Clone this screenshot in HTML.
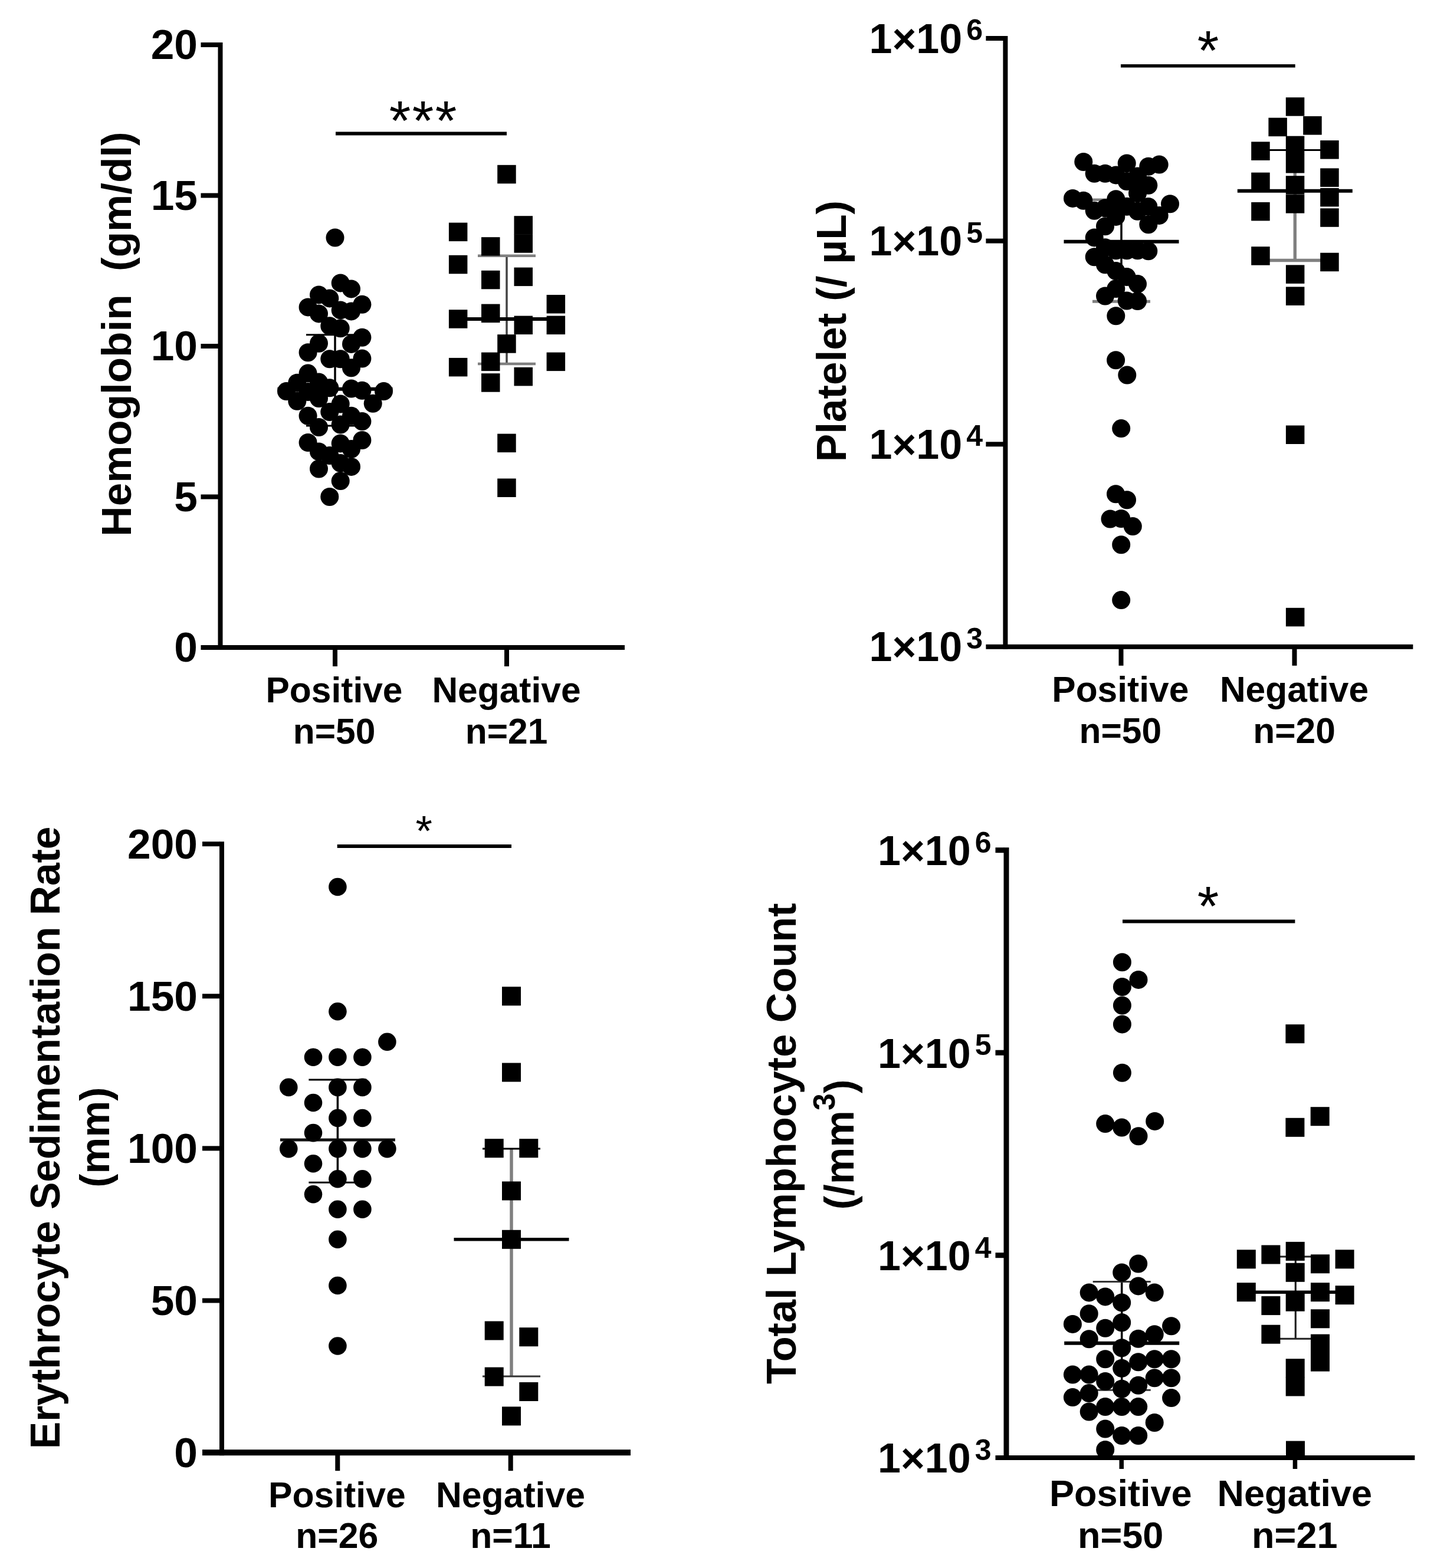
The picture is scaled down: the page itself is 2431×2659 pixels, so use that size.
<!DOCTYPE html>
<html lang="en">
<head>
<meta charset="utf-8">
<title>Hematological parameters: Positive vs Negative</title>
<style>
html,body{margin:0;padding:0;background:#fff;}
body{width:2431px;height:2659px;overflow:hidden;}
svg{display:block;font-family:'Liberation Sans', sans-serif;font-weight:bold;fill:#000;}
</style>
</head>
<body>
<svg role="img" aria-label="Four scatter plots comparing Positive and Negative groups" width="2431" height="2659" viewBox="0 0 2431 2659">
<rect x="0" y="0" width="2431" height="2659" fill="#ffffff"/>
<rect x="369.5" y="72.0" width="8.0" height="1030.0" fill="#000"/>
<rect x="340.5" y="1094.0" width="718.5" height="8.0" fill="#000"/>
<rect x="340.5" y="72.0" width="30.0" height="8.0" fill="#000"/>
<rect x="340.5" y="327.5" width="30.0" height="8.0" fill="#000"/>
<rect x="340.5" y="583.0" width="30.0" height="8.0" fill="#000"/>
<rect x="340.5" y="838.5" width="30.0" height="8.0" fill="#000"/>
<rect x="564.0" y="1098.0" width="8.0" height="32.0" fill="#000"/>
<rect x="855.0" y="1098.0" width="8.0" height="32.0" fill="#000"/>
<text x="335.0" y="100.0" font-size="71.3" text-anchor="end" >20</text>
<text x="335.0" y="355.5" font-size="71.3" text-anchor="end" >15</text>
<text x="335.0" y="611.0" font-size="71.3" text-anchor="end" >10</text>
<text x="335.0" y="866.5" font-size="71.3" text-anchor="end" >5</text>
<text x="335.0" y="1122.0" font-size="71.3" text-anchor="end" >0</text>
<text transform="translate(222.0,566.5) rotate(-90)" font-size="71" text-anchor="middle">Hemoglobin &#160;(gm/dl)</text>
<text x="566.5" y="1191.0" font-size="60.5" text-anchor="middle" >Positive</text>
<text x="566.5" y="1260.5" font-size="60.5" text-anchor="middle" >n=50</text>
<text x="858.5" y="1191.0" font-size="60.5" text-anchor="middle" >Negative</text>
<text x="858.5" y="1260.5" font-size="60.5" text-anchor="middle" >n=21</text>
<line x1="569.0" y1="226.5" x2="859.0" y2="226.5" stroke="#000" stroke-width="6"/>
<text x="718.2" y="236.5" font-size="94" text-anchor="middle" font-weight="normal" letter-spacing="2.4">***</text>
<line x1="568.0" y1="567.8" x2="568.0" y2="722.0" stroke="#000" stroke-width="3.5"/>
<line x1="519.0" y1="567.8" x2="617.0" y2="567.8" stroke="#000" stroke-width="3"/>
<line x1="519.0" y1="722.0" x2="617.0" y2="722.0" stroke="#000" stroke-width="3"/>
<line x1="470.5" y1="659.7" x2="665.5" y2="659.7" stroke="#000" stroke-width="6"/>
<line x1="859.0" y1="433.8" x2="859.0" y2="617.0" stroke="#444" stroke-width="3.5"/>
<line x1="810.0" y1="433.8" x2="908.0" y2="433.8" stroke="#808080" stroke-width="4.5"/>
<line x1="810.0" y1="617.0" x2="908.0" y2="617.0" stroke="#808080" stroke-width="4.5"/>
<line x1="761.5" y1="541.0" x2="956.5" y2="541.0" stroke="#000" stroke-width="6"/>
<circle cx="568.0" cy="403.0" r="15.5"/>
<circle cx="577.2" cy="479.9" r="15.5"/>
<circle cx="595.5" cy="489.9" r="15.5"/>
<circle cx="540.5" cy="499.9" r="15.5"/>
<circle cx="558.8" cy="505.9" r="15.5"/>
<circle cx="522.1" cy="520.9" r="15.5"/>
<circle cx="613.9" cy="516.3" r="15.5"/>
<circle cx="577.2" cy="525.9" r="15.5"/>
<circle cx="595.5" cy="527.9" r="15.5"/>
<circle cx="540.5" cy="531.9" r="15.5"/>
<circle cx="558.8" cy="552.8" r="15.5"/>
<circle cx="577.2" cy="556.8" r="15.5"/>
<circle cx="613.9" cy="572.2" r="15.5"/>
<circle cx="595.5" cy="583.4" r="15.5"/>
<circle cx="540.5" cy="582.2" r="15.5"/>
<circle cx="522.1" cy="597.7" r="15.5"/>
<circle cx="558.8" cy="608.7" r="15.5"/>
<circle cx="577.2" cy="608.7" r="15.5"/>
<circle cx="613.9" cy="608.1" r="15.5"/>
<circle cx="595.5" cy="623.7" r="15.5"/>
<circle cx="522.1" cy="633.1" r="15.5"/>
<circle cx="485.5" cy="663.6" r="15.5"/>
<circle cx="503.8" cy="649.3" r="15.5"/>
<circle cx="503.8" cy="680.2" r="15.5"/>
<circle cx="522.1" cy="664.6" r="15.5"/>
<circle cx="540.5" cy="648.1" r="15.5"/>
<circle cx="540.5" cy="675.6" r="15.5"/>
<circle cx="558.8" cy="657.7" r="15.5"/>
<circle cx="595.5" cy="659.1" r="15.5"/>
<circle cx="613.9" cy="662.2" r="15.5"/>
<circle cx="650.5" cy="663.6" r="15.5"/>
<circle cx="632.2" cy="684.2" r="15.5"/>
<circle cx="577.2" cy="685.0" r="15.5"/>
<circle cx="558.8" cy="698.6" r="15.5"/>
<circle cx="595.5" cy="705.2" r="15.5"/>
<circle cx="613.9" cy="714.6" r="15.5"/>
<circle cx="577.2" cy="720.0" r="15.5"/>
<circle cx="522.1" cy="705.2" r="15.5"/>
<circle cx="540.5" cy="724.5" r="15.5"/>
<circle cx="522.1" cy="750.5" r="15.5"/>
<circle cx="613.9" cy="746.5" r="15.5"/>
<circle cx="577.2" cy="751.9" r="15.5"/>
<circle cx="595.5" cy="761.5" r="15.5"/>
<circle cx="540.5" cy="765.9" r="15.5"/>
<circle cx="558.8" cy="772.5" r="15.5"/>
<circle cx="577.2" cy="785.4" r="15.5"/>
<circle cx="595.5" cy="791.4" r="15.5"/>
<circle cx="540.5" cy="795.0" r="15.5"/>
<circle cx="577.2" cy="815.6" r="15.5"/>
<circle cx="558.8" cy="842.5" r="15.5"/>
<rect x="760.9" y="377.6" width="31.5" height="31.5"/>
<rect x="760.9" y="432.8" width="31.5" height="31.5"/>
<rect x="760.9" y="525.2" width="31.5" height="31.5"/>
<rect x="760.9" y="606.9" width="31.5" height="31.5"/>
<rect x="816.0" y="402.2" width="31.5" height="31.5"/>
<rect x="816.0" y="458.8" width="31.5" height="31.5"/>
<rect x="816.0" y="515.6" width="31.5" height="31.5"/>
<rect x="816.0" y="597.6" width="31.5" height="31.5"/>
<rect x="816.0" y="633.2" width="31.5" height="31.5"/>
<rect x="843.2" y="279.8" width="31.5" height="31.5"/>
<rect x="843.2" y="567.2" width="31.5" height="31.5"/>
<rect x="843.2" y="735.6" width="31.5" height="31.5"/>
<rect x="843.2" y="811.5" width="31.5" height="31.5"/>
<rect x="871.5" y="366.2" width="31.5" height="31.5"/>
<rect x="871.5" y="397.2" width="31.5" height="31.5"/>
<rect x="871.5" y="453.6" width="31.5" height="31.5"/>
<rect x="871.5" y="535.6" width="31.5" height="31.5"/>
<rect x="871.5" y="622.9" width="31.5" height="31.5"/>
<rect x="926.6" y="500.0" width="31.5" height="31.5"/>
<rect x="926.6" y="535.6" width="31.5" height="31.5"/>
<rect x="926.6" y="597.6" width="31.5" height="31.5"/>
<rect x="1700.4" y="61.0" width="8.0" height="1039.8" fill="#000"/>
<rect x="1671.4" y="1092.8" width="724.0" height="8.0" fill="#000"/>
<rect x="1671.4" y="61.0" width="30.0" height="8.0" fill="#000"/>
<rect x="1671.4" y="404.6" width="30.0" height="8.0" fill="#000"/>
<rect x="1671.4" y="749.3" width="30.0" height="8.0" fill="#000"/>
<rect x="1896.5" y="1096.8" width="8.0" height="32.0" fill="#000"/>
<rect x="2190.5" y="1096.8" width="8.0" height="32.0" fill="#000"/>
<text x="1666.0" y="89.5" font-size="70" text-anchor="end">1×10<tspan font-size="50" dx="7" dy="-21.5">6</tspan></text>
<text x="1666.0" y="433.1" font-size="70" text-anchor="end">1×10<tspan font-size="50" dx="7" dy="-21.5">5</tspan></text>
<text x="1666.0" y="777.8" font-size="70" text-anchor="end">1×10<tspan font-size="50" dx="7" dy="-21.5">4</tspan></text>
<text x="1666.0" y="1121.3" font-size="70" text-anchor="end">1×10<tspan font-size="50" dx="7" dy="-21.5">3</tspan></text>
<text transform="translate(1433.5,561.5) rotate(-90)" font-size="71" text-anchor="middle">Platelet (/ µL)</text>
<text x="1899.3" y="1190.3" font-size="60.5" text-anchor="middle" >Positive</text>
<text x="1899.3" y="1259.8" font-size="60.5" text-anchor="middle" >n=50</text>
<text x="2194.0" y="1190.3" font-size="60.5" text-anchor="middle" >Negative</text>
<text x="2194.0" y="1259.8" font-size="60.5" text-anchor="middle" >n=20</text>
<line x1="1900.0" y1="111.7" x2="2195.7" y2="111.7" stroke="#000" stroke-width="5.5"/>
<text x="2048.0" y="118.0" font-size="94" text-anchor="middle" font-weight="normal">*</text>
<line x1="1901.0" y1="338.8" x2="1901.0" y2="511.2" stroke="#000" stroke-width="3.5"/>
<line x1="1852.0" y1="338.8" x2="1950.0" y2="338.8" stroke="#808080" stroke-width="4.5"/>
<line x1="1852.0" y1="511.2" x2="1950.0" y2="511.2" stroke="#808080" stroke-width="5"/>
<line x1="1803.5" y1="409.7" x2="1998.5" y2="409.7" stroke="#000" stroke-width="6"/>
<line x1="2195.3" y1="254.4" x2="2195.3" y2="441.5" stroke="#808080" stroke-width="5.4"/>
<line x1="2146.3" y1="254.4" x2="2244.3" y2="254.4" stroke="#000" stroke-width="3"/>
<line x1="2146.3" y1="441.5" x2="2244.3" y2="441.5" stroke="#808080" stroke-width="5.5"/>
<line x1="2097.8" y1="323.7" x2="2292.8" y2="323.7" stroke="#000" stroke-width="6"/>
<circle cx="1836.8" cy="274.5" r="15.5"/>
<circle cx="1910.2" cy="276.9" r="15.5"/>
<circle cx="1965.2" cy="279.1" r="15.5"/>
<circle cx="1946.8" cy="282.3" r="15.5"/>
<circle cx="1855.2" cy="294.3" r="15.5"/>
<circle cx="1873.5" cy="294.3" r="15.5"/>
<circle cx="1891.8" cy="296.9" r="15.5"/>
<circle cx="1928.5" cy="298.9" r="15.5"/>
<circle cx="1910.2" cy="307.5" r="15.5"/>
<circle cx="1946.8" cy="314.3" r="15.5"/>
<circle cx="1818.5" cy="336.4" r="15.5"/>
<circle cx="1836.8" cy="340.2" r="15.5"/>
<circle cx="1855.2" cy="357.2" r="15.5"/>
<circle cx="1873.5" cy="352.8" r="15.5"/>
<circle cx="1891.8" cy="337.8" r="15.5"/>
<circle cx="1983.5" cy="345.8" r="15.5"/>
<circle cx="1965.2" cy="365.4" r="15.5"/>
<circle cx="1946.8" cy="350.4" r="15.5"/>
<circle cx="1928.5" cy="327.8" r="15.5"/>
<circle cx="1946.8" cy="380.8" r="15.5"/>
<circle cx="1928.5" cy="358.2" r="15.5"/>
<circle cx="1910.2" cy="350.2" r="15.5"/>
<circle cx="1891.8" cy="367.4" r="15.5"/>
<circle cx="1873.5" cy="383.8" r="15.5"/>
<circle cx="1855.2" cy="402.9" r="15.5"/>
<circle cx="1873.5" cy="419.7" r="15.5"/>
<circle cx="1891.8" cy="424.7" r="15.5"/>
<circle cx="1910.2" cy="424.7" r="15.5"/>
<circle cx="1928.5" cy="424.7" r="15.5"/>
<circle cx="1946.8" cy="425.7" r="15.5"/>
<circle cx="1855.2" cy="435.7" r="15.5"/>
<circle cx="1873.5" cy="448.7" r="15.5"/>
<circle cx="1891.8" cy="459.6" r="15.5"/>
<circle cx="1910.2" cy="469.6" r="15.5"/>
<circle cx="1928.5" cy="481.6" r="15.5"/>
<circle cx="1891.8" cy="489.6" r="15.5"/>
<circle cx="1873.5" cy="502.0" r="15.5"/>
<circle cx="1910.2" cy="510.0" r="15.5"/>
<circle cx="1928.5" cy="510.6" r="15.5"/>
<circle cx="1891.8" cy="535.7" r="15.5"/>
<circle cx="1891.6" cy="610.8" r="15.5"/>
<circle cx="1910.8" cy="636.0" r="15.5"/>
<circle cx="1900.7" cy="726.6" r="15.5"/>
<circle cx="1891.5" cy="837.7" r="15.5"/>
<circle cx="1910.5" cy="847.7" r="15.5"/>
<circle cx="1882.0" cy="880.0" r="15.5"/>
<circle cx="1900.7" cy="879.5" r="15.5"/>
<circle cx="1920.3" cy="892.6" r="15.5"/>
<circle cx="1900.7" cy="923.7" r="15.5"/>
<circle cx="1900.7" cy="1017.6" r="15.5"/>
<rect x="2179.8" y="165.2" width="31.5" height="31.5"/>
<rect x="2150.4" y="199.7" width="31.5" height="31.5"/>
<rect x="2209.2" y="197.1" width="31.5" height="31.5"/>
<rect x="2179.8" y="230.7" width="31.5" height="31.5"/>
<rect x="2121.2" y="240.4" width="31.5" height="31.5"/>
<rect x="2238.2" y="238.1" width="31.5" height="31.5"/>
<rect x="2179.8" y="262.0" width="31.5" height="31.5"/>
<rect x="2121.2" y="292.6" width="31.5" height="31.5"/>
<rect x="2238.2" y="285.4" width="31.5" height="31.5"/>
<rect x="2179.8" y="298.2" width="31.5" height="31.5"/>
<rect x="2238.2" y="318.9" width="31.5" height="31.5"/>
<rect x="2179.8" y="330.1" width="31.5" height="31.5"/>
<rect x="2121.2" y="342.9" width="31.5" height="31.5"/>
<rect x="2238.2" y="353.3" width="31.5" height="31.5"/>
<rect x="2121.2" y="418.2" width="31.5" height="31.5"/>
<rect x="2238.2" y="428.7" width="31.5" height="31.5"/>
<rect x="2179.9" y="449.4" width="31.5" height="31.5"/>
<rect x="2179.9" y="486.4" width="31.5" height="31.5"/>
<rect x="2179.9" y="721.5" width="31.5" height="31.5"/>
<rect x="2179.9" y="1030.8" width="31.5" height="31.5"/>
<rect x="372.0" y="1427.2" width="8.0" height="1041.0" fill="#000"/>
<rect x="343.0" y="2458.2" width="726.0" height="10.0" fill="#000"/>
<rect x="343.0" y="1427.2" width="30.0" height="8.0" fill="#000"/>
<rect x="343.0" y="1685.3" width="30.0" height="8.0" fill="#000"/>
<rect x="343.0" y="1943.4" width="30.0" height="8.0" fill="#000"/>
<rect x="343.0" y="2201.5" width="30.0" height="8.0" fill="#000"/>
<rect x="568.3" y="2463.2" width="8.0" height="31.0" fill="#000"/>
<rect x="861.7" y="2463.2" width="8.0" height="31.0" fill="#000"/>
<text x="335.0" y="1455.6" font-size="71.3" text-anchor="end" >200</text>
<text x="335.0" y="1713.7" font-size="71.3" text-anchor="end" >150</text>
<text x="335.0" y="1971.8" font-size="71.3" text-anchor="end" >100</text>
<text x="335.0" y="2229.9" font-size="71.3" text-anchor="end" >50</text>
<text x="335.0" y="2487.9" font-size="71.3" text-anchor="end" >0</text>
<text transform="translate(100.5,1929.3) rotate(-90)" font-size="69.6" text-anchor="middle">Erythrocyte Sedimentation Rate</text>
<text transform="translate(185.3,1928.6) rotate(-90)" font-size="69.6" text-anchor="middle">(mm)</text>
<text x="571.3" y="2555.5" font-size="60.7" text-anchor="middle" >Positive</text>
<text x="571.3" y="2625.0" font-size="60.7" text-anchor="middle" >n=26</text>
<text x="865.5" y="2555.5" font-size="60.7" text-anchor="middle" >Negative</text>
<text x="865.5" y="2625.0" font-size="60.7" text-anchor="middle" >n=11</text>
<line x1="571.7" y1="1435.0" x2="867.0" y2="1435.0" stroke="#000" stroke-width="6"/>
<text x="718.7" y="1434.0" font-size="73" text-anchor="middle" font-weight="normal">*</text>
<line x1="572.4" y1="1830.9" x2="572.4" y2="2005.2" stroke="#000" stroke-width="3.5"/>
<line x1="523.4" y1="1830.9" x2="621.4" y2="1830.9" stroke="#000" stroke-width="3"/>
<line x1="523.4" y1="2005.2" x2="621.4" y2="2005.2" stroke="#000" stroke-width="3"/>
<line x1="474.9" y1="1933.0" x2="669.9" y2="1933.0" stroke="#111" stroke-width="5"/>
<line x1="867.0" y1="1947.9" x2="867.0" y2="2334.0" stroke="#808080" stroke-width="5.5"/>
<line x1="818.0" y1="1947.9" x2="916.0" y2="1947.9" stroke="#000" stroke-width="3"/>
<line x1="818.0" y1="2334.0" x2="916.0" y2="2334.0" stroke="#333" stroke-width="3"/>
<line x1="769.5" y1="2101.8" x2="964.5" y2="2101.8" stroke="#000" stroke-width="5.5"/>
<circle cx="572.4" cy="1504.0" r="15.3"/>
<circle cx="572.4" cy="1715.3" r="15.3"/>
<circle cx="656.4" cy="1766.8" r="15.3"/>
<circle cx="531.0" cy="1792.8" r="15.3"/>
<circle cx="572.4" cy="1792.8" r="15.3"/>
<circle cx="614.4" cy="1792.8" r="15.3"/>
<circle cx="489.3" cy="1843.9" r="15.3"/>
<circle cx="572.4" cy="1843.9" r="15.3"/>
<circle cx="614.4" cy="1843.9" r="15.3"/>
<circle cx="531.0" cy="1870.0" r="15.3"/>
<circle cx="572.4" cy="1896.0" r="15.3"/>
<circle cx="614.4" cy="1896.0" r="15.3"/>
<circle cx="531.0" cy="1921.1" r="15.3"/>
<circle cx="489.3" cy="1948.1" r="15.3"/>
<circle cx="572.4" cy="1948.1" r="15.3"/>
<circle cx="614.4" cy="1948.1" r="15.3"/>
<circle cx="656.4" cy="1948.1" r="15.3"/>
<circle cx="531.0" cy="1973.2" r="15.3"/>
<circle cx="572.4" cy="1999.3" r="15.3"/>
<circle cx="614.4" cy="1999.3" r="15.3"/>
<circle cx="531.0" cy="2025.3" r="15.3"/>
<circle cx="572.4" cy="2050.7" r="15.3"/>
<circle cx="614.4" cy="2050.7" r="15.3"/>
<circle cx="572.4" cy="2101.8" r="15.3"/>
<circle cx="572.4" cy="2180.0" r="15.3"/>
<circle cx="572.4" cy="2282.5" r="15.3"/>
<rect x="851.0" y="1673.3" width="32" height="32"/>
<rect x="851.0" y="1802.5" width="32" height="32"/>
<rect x="821.7" y="1931.2" width="32" height="32"/>
<rect x="880.3" y="1931.2" width="32" height="32"/>
<rect x="851.0" y="2003.5" width="32" height="32"/>
<rect x="851.0" y="2085.8" width="32" height="32"/>
<rect x="821.7" y="2240.5" width="32" height="32"/>
<rect x="880.3" y="2251.2" width="32" height="32"/>
<rect x="821.7" y="2318.6" width="32" height="32"/>
<rect x="880.3" y="2344.0" width="32" height="32"/>
<rect x="851.0" y="2385.4" width="32" height="32"/>
<rect x="1701.5" y="1437.2" width="9.0" height="1038.8" fill="#000"/>
<rect x="1687.5" y="2468.0" width="710.9" height="8.0" fill="#000"/>
<rect x="1687.5" y="1437.2" width="15.0" height="9.0" fill="#000"/>
<rect x="1687.5" y="1780.7" width="15.0" height="9.0" fill="#000"/>
<rect x="1687.5" y="2124.2" width="15.0" height="9.0" fill="#000"/>
<rect x="1897.5" y="2472.0" width="7.5" height="19.0" fill="#000"/>
<rect x="2191.7" y="2472.0" width="7.5" height="19.0" fill="#000"/>
<text x="1680.5" y="1467.0" font-size="70" text-anchor="end">1×10<tspan font-size="50" dx="7" dy="-21.5">6</tspan></text>
<text x="1680.5" y="1810.5" font-size="70" text-anchor="end">1×10<tspan font-size="50" dx="7" dy="-21.5">5</tspan></text>
<text x="1680.5" y="2154.0" font-size="70" text-anchor="end">1×10<tspan font-size="50" dx="7" dy="-21.5">4</tspan></text>
<text x="1680.5" y="2497.3" font-size="70" text-anchor="end">1×10<tspan font-size="50" dx="7" dy="-21.5">3</tspan></text>
<text transform="translate(1349.0,1939.2) rotate(-90)" font-size="70.25" text-anchor="middle">Total Lymphocyte Count</text>
<text transform="translate(1447,1941) rotate(-90)" font-size="70.5" text-anchor="middle">(/mm<tspan font-size="52" dy="-32">3</tspan><tspan dy="32">)</tspan></text>
<text x="1899.7" y="2554.0" font-size="63" text-anchor="middle" >Positive</text>
<text x="1899.7" y="2625.0" font-size="63" text-anchor="middle" >n=50</text>
<text x="2194.8" y="2554.0" font-size="63" text-anchor="middle" >Negative</text>
<text x="2194.8" y="2625.0" font-size="63" text-anchor="middle" >n=21</text>
<line x1="1903.0" y1="1562.4" x2="2195.4" y2="1562.4" stroke="#000" stroke-width="6"/>
<text x="2048.0" y="1569.0" font-size="94" text-anchor="middle" font-weight="normal">*</text>
<line x1="1901.7" y1="2173.5" x2="1901.7" y2="2357.2" stroke="#000" stroke-width="3.5"/>
<line x1="1852.7" y1="2173.5" x2="1950.7" y2="2173.5" stroke="#333" stroke-width="3"/>
<line x1="1852.7" y1="2357.2" x2="1950.7" y2="2357.2" stroke="#333" stroke-width="3"/>
<line x1="1804.2" y1="2277.7" x2="1999.2" y2="2277.7" stroke="#000" stroke-width="6"/>
<line x1="2196.3" y1="2130.9" x2="2196.3" y2="2270.2" stroke="#222" stroke-width="3.2"/>
<line x1="2147.3" y1="2130.9" x2="2245.3" y2="2130.9" stroke="#222" stroke-width="3"/>
<line x1="2147.3" y1="2270.2" x2="2245.3" y2="2270.2" stroke="#222" stroke-width="3"/>
<line x1="2098.8" y1="2191.2" x2="2293.8" y2="2191.2" stroke="#000" stroke-width="5.5"/>
<circle cx="1902.4" cy="1631.8" r="15.5"/>
<circle cx="1930.0" cy="1661.4" r="15.5"/>
<circle cx="1902.4" cy="1673.5" r="15.5"/>
<circle cx="1902.4" cy="1705.0" r="15.5"/>
<circle cx="1902.4" cy="1736.9" r="15.5"/>
<circle cx="1902.4" cy="1819.3" r="15.5"/>
<circle cx="1873.7" cy="1905.6" r="15.5"/>
<circle cx="1901.7" cy="1912.1" r="15.5"/>
<circle cx="1930.0" cy="1926.7" r="15.5"/>
<circle cx="1957.7" cy="1901.4" r="15.5"/>
<circle cx="1929.7" cy="2143.0" r="15.5"/>
<circle cx="1901.7" cy="2157.9" r="15.5"/>
<circle cx="1929.7" cy="2180.9" r="15.5"/>
<circle cx="1846.2" cy="2191.9" r="15.5"/>
<circle cx="1873.7" cy="2198.9" r="15.5"/>
<circle cx="1957.2" cy="2191.9" r="15.5"/>
<circle cx="1901.7" cy="2208.9" r="15.5"/>
<circle cx="1846.2" cy="2227.8" r="15.5"/>
<circle cx="1818.4" cy="2245.4" r="15.5"/>
<circle cx="1873.7" cy="2252.2" r="15.5"/>
<circle cx="1901.7" cy="2242.8" r="15.5"/>
<circle cx="1985.6" cy="2248.8" r="15.5"/>
<circle cx="1957.2" cy="2262.8" r="15.5"/>
<circle cx="1929.7" cy="2270.2" r="15.5"/>
<circle cx="1846.2" cy="2270.8" r="15.5"/>
<circle cx="1901.7" cy="2285.7" r="15.5"/>
<circle cx="1873.7" cy="2304.7" r="15.5"/>
<circle cx="1929.7" cy="2309.7" r="15.5"/>
<circle cx="1957.2" cy="2304.7" r="15.5"/>
<circle cx="1985.6" cy="2304.7" r="15.5"/>
<circle cx="1901.7" cy="2320.3" r="15.5"/>
<circle cx="1818.4" cy="2331.1" r="15.5"/>
<circle cx="1846.2" cy="2331.1" r="15.5"/>
<circle cx="1873.7" cy="2342.6" r="15.5"/>
<circle cx="1957.2" cy="2336.7" r="15.5"/>
<circle cx="1985.6" cy="2336.7" r="15.5"/>
<circle cx="1929.7" cy="2349.2" r="15.5"/>
<circle cx="1901.7" cy="2355.2" r="15.5"/>
<circle cx="1846.2" cy="2362.6" r="15.5"/>
<circle cx="1818.4" cy="2369.6" r="15.5"/>
<circle cx="1985.6" cy="2370.6" r="15.5"/>
<circle cx="1873.7" cy="2385.6" r="15.5"/>
<circle cx="1901.7" cy="2385.6" r="15.5"/>
<circle cx="1929.7" cy="2385.6" r="15.5"/>
<circle cx="1846.2" cy="2394.0" r="15.5"/>
<circle cx="1957.2" cy="2412.5" r="15.5"/>
<circle cx="1873.7" cy="2423.1" r="15.5"/>
<circle cx="1901.7" cy="2434.5" r="15.5"/>
<circle cx="1929.7" cy="2434.5" r="15.5"/>
<circle cx="1873.7" cy="2458.5" r="15.5"/>
<rect x="2179.4" y="1737.2" width="32" height="32"/>
<rect x="2221.7" y="1877.2" width="32" height="32"/>
<rect x="2179.4" y="1895.8" width="32" height="32"/>
<rect x="2179.7" y="2105.9" width="32" height="32"/>
<rect x="2138.4" y="2111.5" width="32" height="32"/>
<rect x="2096.8" y="2119.3" width="32" height="32"/>
<rect x="2263.6" y="2119.3" width="32" height="32"/>
<rect x="2222.0" y="2127.3" width="32" height="32"/>
<rect x="2179.7" y="2141.8" width="32" height="32"/>
<rect x="2096.8" y="2175.2" width="32" height="32"/>
<rect x="2222.0" y="2175.2" width="32" height="32"/>
<rect x="2263.6" y="2180.2" width="32" height="32"/>
<rect x="2179.7" y="2191.7" width="32" height="32"/>
<rect x="2138.4" y="2198.1" width="32" height="32"/>
<rect x="2222.0" y="2220.3" width="32" height="32"/>
<rect x="2138.4" y="2246.7" width="32" height="32"/>
<rect x="2222.0" y="2262.6" width="32" height="32"/>
<rect x="2222.0" y="2293.6" width="32" height="32"/>
<rect x="2179.7" y="2304.2" width="32" height="32"/>
<rect x="2179.7" y="2335.5" width="32" height="32"/>
<rect x="2180.0" y="2443.6" width="32" height="32"/>
</svg>
</body>
</html>
